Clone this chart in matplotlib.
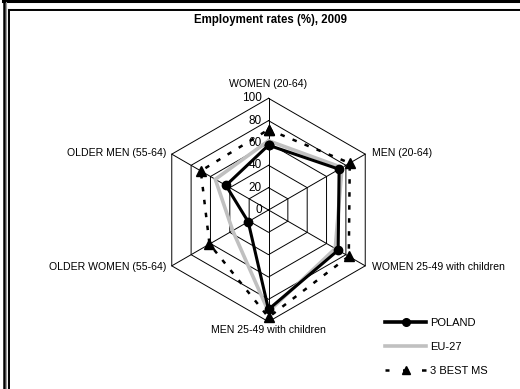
import numpy as np
import matplotlib
matplotlib.use("Agg")
import matplotlib.pyplot as plt
from matplotlib.lines import Line2D

plt.rcParams['font.family'] = ['Liberation Sans', 'DejaVu Sans']

# Employment rates (%), 2009
categories = ["WOMEN (20-64)", "MEN (20-64)", "WOMEN 25-49 with children",
              "MEN 25-49 with children", "OLDER WOMEN (55-64)", "OLDER MEN (55-64)"]
poland = [58, 73, 72, 89, 21, 44]
eu27 = [62, 76, 69, 91, 37, 55]
best_ms = [72, 84, 83, 96, 61, 70]
ring_ticks = [0, 20, 40, 60, 80, 100]
series_names = ["POLAND", "EU-27", "3 BEST MS"]

W, H = 520, 389
fig = plt.figure(figsize=(W / 100, H / 100), dpi=100)

# radar drawn in a plain cartesian axes; 1 data unit = 1.117 px
scale = 1.117
cx, cy = 268.5, 210.0
half = 120
ax = fig.add_axes([(cx - half * scale) / W, (H - cy - half * scale) / H,
                   2 * half * scale / W, 2 * half * scale / H])
ax.set_xlim(-half, half)
ax.set_ylim(-half, half)
ax.axis('off')

n = len(categories)
angles = np.deg2rad(90 - 60 * np.arange(n))


def to_xy(values):
    v = np.asarray(values, dtype=float)
    return v * np.cos(angles), v * np.sin(angles)


# hexagonal grid and spokes
rmax = ring_ticks[-1]
for r in ring_ticks[1:]:
    x, y = to_xy([r] * n)
    ax.plot(np.append(x, x[0]), np.append(y, y[0]), color='black', lw=0.7, zorder=1)
for a in angles:
    ax.plot([0, rmax * np.cos(a)], [0, rmax * np.sin(a)], color='black', lw=0.7, zorder=1)

# radial tick labels along the top spoke
for r in ring_ticks:
    ax.text(-6, r, str(r), ha='right', va='center', fontsize=8.5, zorder=2)

# category labels
label_cfg = [
    (0, rmax + 12.5, 'center', 'center'),
    (rmax * np.cos(angles[1]) + 6, rmax * np.sin(angles[1]) + 1.3, 'left', 'center'),
    (rmax * np.cos(angles[2]) + 6, rmax * np.sin(angles[2]) - 0.7, 'left', 'center'),
    (0, -rmax - 7.5, 'center', 'center'),
    (rmax * np.cos(angles[4]) - 4.5, rmax * np.sin(angles[4]) - 1.3, 'right', 'center'),
    (rmax * np.cos(angles[5]) - 4.5, rmax * np.sin(angles[5]) + 1.3, 'right', 'center'),
]
for name, (lx, ly, ha, va) in zip(categories, label_cfg):
    ax.text(lx, ly, name, ha=ha, va=va, fontsize=7.6, clip_on=False)

# series
dash = (0, (1.8, 3.4))
px, py = to_xy(poland)
ex, ey = to_xy(eu27)
bx, by = to_xy(best_ms)
ax.plot(np.append(ex, ex[0]), np.append(ey, ey[0]), color='#c0c0c0', lw=2.6,
        zorder=3, solid_joinstyle='miter')
ax.plot(np.append(px, px[0]), np.append(py, py[0]), color='black', lw=2.2,
        marker='o', markersize=6, zorder=4)
ax.plot(np.append(bx, bx[0]), np.append(by, by[0]), color='black', lw=1.8,
        linestyle=dash, dash_capstyle='butt', marker='^', markersize=6.5, zorder=5)

# title
fig.text(270 / W, 1 - 20 / H, "Employment rates (%), 2009", ha='center', va='center',
         fontsize=8.3, fontweight='bold')

# legend
handles = [
    Line2D([], [], color='black', lw=2.6, marker='o', markersize=5.5),
    Line2D([], [], color='#c0c0c0', lw=2.6),
    Line2D([], [], color='black', lw=1.8, linestyle=(0.6, (2.2, 5.4)),
           dash_capstyle='butt', marker='^', markersize=5.5),
]
fig.legend(handles, series_names, loc='upper left',
           bbox_to_anchor=(385 / W, 1 - 318 / H), frameon=False, fontsize=8,
           handlelength=3.7, handletextpad=0.35, labelspacing=1.25,
           borderpad=0, borderaxespad=0)


# page frame
def hline(y, x0, x1, color, lw):
    fig.add_artist(Line2D([x0 / W, x1 / W], [1 - y / H, 1 - y / H], color=color, lw=lw))


def vline(x, y0, y1, color, lw):
    fig.add_artist(Line2D([x / W, x / W], [1 - y0 / H, 1 - y1 / H], color=color, lw=lw))


hline(1.0, 3, W, 'black', 2.2)
vline(4.0, 0, H, 'black', 1.8)
vline(5.6, 2, H, '#9a9a9a', 0.8)
hline(9.0, 7.5, W, '#9a9a9a', 0.8)
hline(10.3, 8.5, W, 'black', 1.4)
vline(7.6, 9, H, '#9a9a9a', 0.8)
vline(9.1, 10, H, 'black', 1.4)

fig.savefig("out.png", dpi=100)
